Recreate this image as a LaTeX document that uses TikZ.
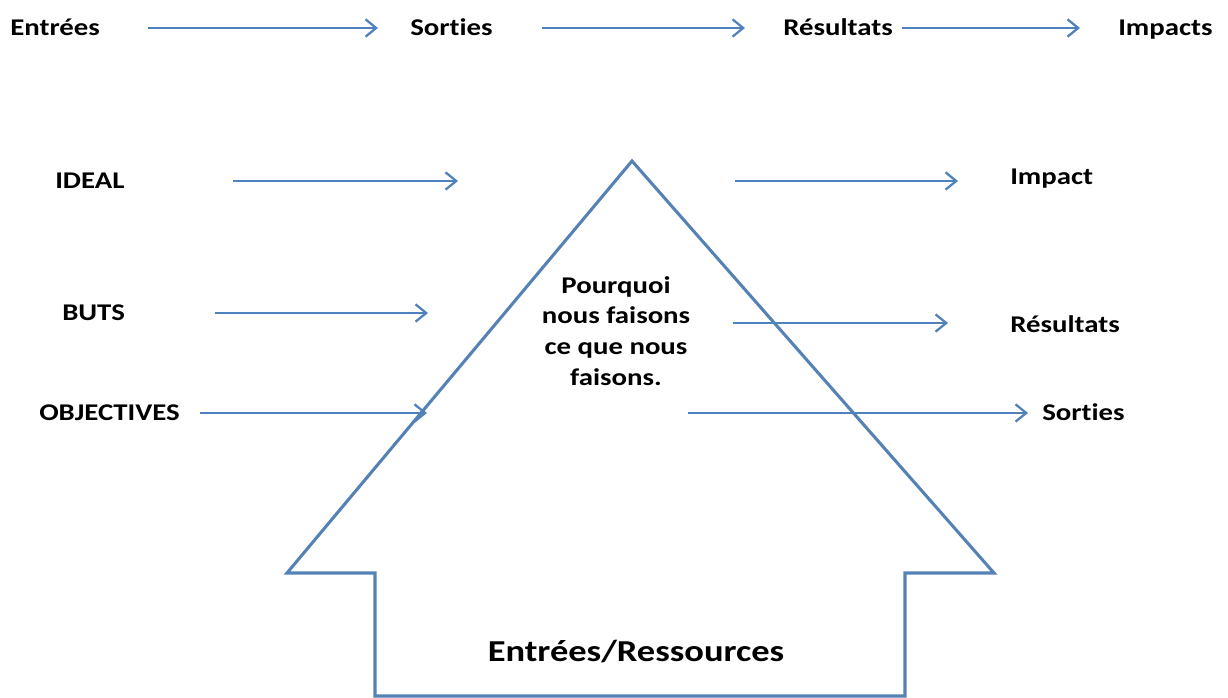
\documentclass[tikz,border=0pt]{standalone}
\usepackage{fontspec}
\setmainfont{Carlito}[FakeStretch=1.2, Ligatures=NoCommon]
\usetikzlibrary{arrows.meta}
\definecolor{arrowblue}{RGB}{79,129,189}
\definecolor{houseblue}{RGB}{84,130,180}
\tikzset{
  lbl/.style={font=\bfseries\fontsize{18}{21}\selectfont, inner sep=0pt, anchor=base west, text=black},
  flow/.style={draw=arrowblue, line width=2pt, -{Straight Barb[length=8pt,width=13pt,line width=1.7pt]}},
  house/.style={draw=houseblue, line width=2.3pt, line join=miter}
}
\begin{document}
\begin{tikzpicture}[x=0.75pt,y=-0.75pt]
\useasboundingbox (0,0) rectangle (1228,698);

% top row (baselines)
\node[lbl] (t1) at (10,36) {Entrées};
\node[lbl] (t2) at (410,36) {Sorties};
\node[lbl] (t3) at (783,36) {Résultats};
\node[lbl] (t4) at (1118,36) {Impacts};
\coordinate (a1s) at (148,28); \coordinate (a1e) at (378,28);
\coordinate (a2s) at (542,28); \coordinate (a2e) at (745,28);
\coordinate (a3s) at (902,28); \coordinate (a3e) at (1080,28);
\draw[flow] (a1s) -- (a1e);
\draw[flow] (a2s) -- (a2e);
\draw[flow] (a3s) -- (a3e);

% house
\coordinate (apex) at (632,161);
\coordinate (bl) at (287,573);
\coordinate (il) at (375,573);
\coordinate (ilb) at (375,696);
\coordinate (irb) at (905,696);
\coordinate (ir) at (905,573);
\coordinate (br) at (994,573);
\draw[house] (apex) -- (bl) -- (il) -- (ilb) -- (irb) -- (ir) -- (br) -- cycle;

% left labels
\node[lbl] (ideal) at (55,189) {IDEAL};
\node[lbl] (buts) at (62,321) {BUTS};
\node[lbl] (obj) at (39,421) {OBJECTIVES};
\coordinate (l1s) at (233,181); \coordinate (l1e) at (458,181);
\coordinate (l2s) at (215,313); \coordinate (l2e) at (428,313);
\coordinate (l3s) at (200,413); \coordinate (l3e) at (427,413);
\draw[flow] (l1s) -- (l1e);
\draw[flow] (l2s) -- (l2e);
\draw[flow] (l3s) -- (l3e);

% right labels
\node[lbl] (imp) at (1010,185) {Impact};
\node[lbl] (res) at (1010,333) {Résultats};
\node[lbl] (sor) at (1042,421) {Sorties};
\coordinate (r1s) at (735,181); \coordinate (r1e) at (958,181);
\coordinate (r2s) at (733,323); \coordinate (r2e) at (948,323);
\coordinate (r3s) at (688,413); \coordinate (r3e) at (1028,413);
\draw[flow] (r1s) -- (r1e);
\draw[flow] (r2s) -- (r2e);
\draw[flow] (r3s) -- (r3e);

% centre text
\node[font=\bfseries\fontsize{18}{23}\selectfont, align=center, inner sep=0pt] (why) at (616,331)
  {Pourquoi\\nous faisons\\ce que nous\\faisons.};

\node[font=\bfseries\fontsize{22.8}{26}\selectfont, inner sep=0pt] (inp) at (636,652) {Entrées/Ressources};
\end{tikzpicture}
\end{document}
